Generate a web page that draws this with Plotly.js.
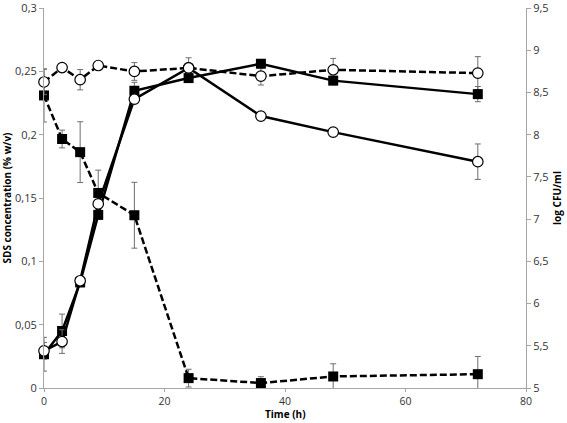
<!DOCTYPE html>
<html>
<head>
<meta charset="utf-8">
<script src="https://cdn.plot.ly/plotly-3.0.1.min.js"></script>
<style>html,body{margin:0;padding:0;background:#fff;}#chart{width:567px;height:423px;}</style>
</head>
<body>
<div id="chart"></div>
<script>
// Time points (h)
var timeH = [0, 3, 6, 9, 15, 24, 36, 48, 72];

// SDS concentration (% w/v) - left axis
var sdsControl    = [0.2416, 0.253, 0.2434, 0.2546, 0.2499, 0.2527, 0.2462, 0.2512, 0.2486];
var sdsControlErr = [0.010, 0.003, 0.008, 0.000, 0.007, 0.008, 0.007, 0.009, 0.013];
var sdsDegraded    = [0.231, 0.1966, 0.1862, 0.154, 0.1364, 0.0078, 0.0039, 0.0091, 0.0109];
var sdsDegradedErr = [0.021, 0.007, 0.024, 0.018, 0.026, 0.007, 0.005, 0.010, 0.014];

// log CFU/ml - right axis
var cfuSquares    = [5.40, 5.675, 6.25, 7.05, 8.52, 8.67, 8.84, 8.64, 8.48];
var cfuSquaresErr = [0.20, 0.20, 0.05, 0.05, 0.10, 0.05, 0.05, 0.05, 0.09];
var cfuCircles    = [5.44, 5.55, 6.27, 7.18, 8.42, 8.79, 8.22, 8.03, 7.68];
var cfuCirclesErr = [0.10, 0.14, 0.05, 0.05, 0.05, 0.05, 0.03, 0.03, 0.21];

var errStyle = function(arr){ return {type:'data', array:arr, visible:true, color:'#6e6e6e', thickness:1, width:3}; };
var dashPat = '7px,3px';

var traces = [
  {x:timeH, y:cfuSquares, yaxis:'y2', mode:'lines+markers', cliponaxis:false, error_y:errStyle(cfuSquaresErr),
   line:{color:'#000', width:2.5}, marker:{symbol:'square', size:10, color:'#000'}},
  {x:timeH, y:cfuCircles, yaxis:'y2', mode:'lines+markers', cliponaxis:false, error_y:errStyle(cfuCirclesErr),
   line:{color:'#000', width:2.5}, marker:{symbol:'circle', size:10.5, color:'#fff', line:{color:'#000', width:1.2}}},
  {x:timeH, y:sdsDegraded, yaxis:'y', mode:'lines+markers', cliponaxis:false, error_y:errStyle(sdsDegradedErr),
   line:{color:'#000', width:2.5, dash:dashPat}, marker:{symbol:'square', size:10, color:'#000'}},
  {x:timeH, y:sdsControl, yaxis:'y', mode:'lines+markers', cliponaxis:false, error_y:errStyle(sdsControlErr),
   line:{color:'#000', width:2.5, dash:dashPat}, marker:{symbol:'circle', size:10.5, color:'#fff', line:{color:'#000', width:1.2}}}
];

var tickFont = {family:'Open Sans, sans-serif', size:11, color:'#333'};
var xTickFont = {family:'Open Sans, sans-serif', size:10.5, color:'#333'};
var titleFont = {family:'Open Sans, sans-serif', size:10, color:'#000', weight:'bold'};

var layout = {
  width:567, height:423,
  margin:{l:44, r:41, t:8, b:35},
  paper_bgcolor:'#fff', plot_bgcolor:'#fff',
  separators:', ',
  showlegend:false,
  xaxis:{range:[0,80], dtick:20, tick0:0, showgrid:false, zeroline:false,
    showline:true, linecolor:'#a6a6a6', linewidth:1, ticks:'outside', ticklen:3, tickcolor:'#a6a6a6',
    tickfont:xTickFont, ticklabeloverflow:'allow'},
  yaxis:{range:[0,0.30001], dtick:0.05, tick0:0, showgrid:false, zeroline:false,
    showline:true, linecolor:'#a6a6a6', linewidth:1, ticks:'outside', ticklen:4, tickcolor:'#a6a6a6',
    tickfont:tickFont, ticklabeloverflow:'allow',
    title:{text:'SDS concentration (% w/v)', font:titleFont, standoff:4}},
  yaxis2:{range:[5,9.50001], dtick:0.5, tick0:5, overlaying:'y', side:'right', anchor:'x',
    showgrid:false, zeroline:false,
    showline:true, linecolor:'#a6a6a6', linewidth:1, ticks:'outside', ticklen:4, tickcolor:'#a6a6a6',
    tickfont:tickFont, ticklabeloverflow:'allow',
    title:{text:'log CFU/ml', font:titleFont, standoff:6}},
  annotations:[{text:'<b>Time (h)</b>', xref:'paper', yref:'paper', x:0.5, y:-0.0895,
    xanchor:'center', yanchor:'bottom', showarrow:false, font:titleFont, borderpad:0}]
};

Plotly.newPlot('chart', traces, layout, {displayModeBar:false, staticPlot:true});
</script>
</body>
</html>
